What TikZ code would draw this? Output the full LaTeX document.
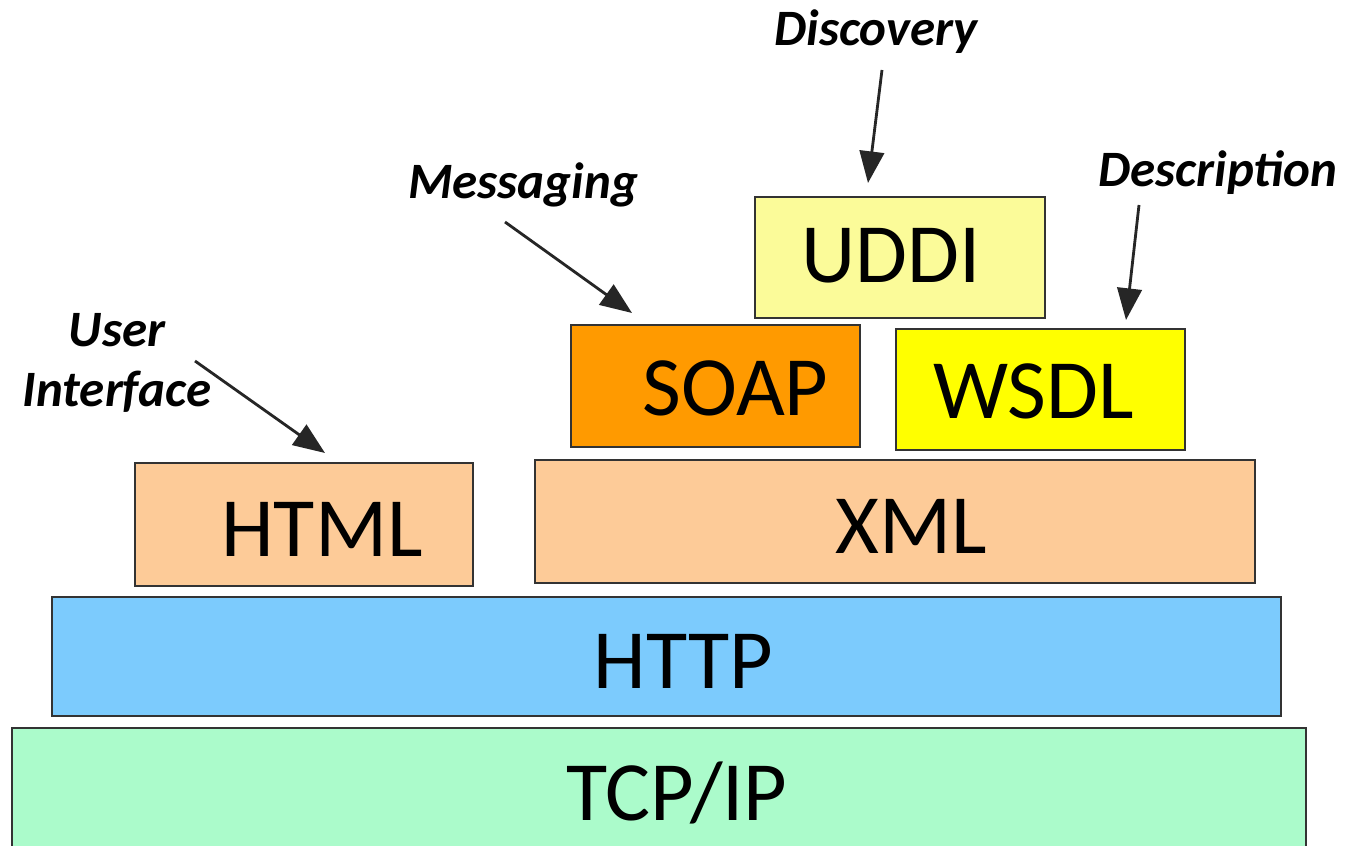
\documentclass[tikz,border=0pt]{standalone}
\usepackage{fontspec}
\setmainfont{Carlito}
\usetikzlibrary{arrows.meta}
\definecolor{tcpc}{HTML}{ABFBCB}
\definecolor{httpc}{HTML}{7CCBFD}
\definecolor{xmlc}{HTML}{FDCB98}
\definecolor{soapc}{HTML}{FF9A00}
\definecolor{wsdlc}{HTML}{FFFF00}
\definecolor{uddic}{HTML}{FBFB99}
\tikzset{
  layer/.style={draw=black!80, line width=0.6pt, inner sep=0pt, font=\fontsize{24}{24}\selectfont},
  tag/.style={font=\itshape\bfseries\fontsize{14.5}{17}\selectfont, align=center, inner sep=0pt},
  pointer/.style={-{Triangle[length=9pt,width=7pt]}, line width=0.8pt, black!85}
}
\begin{document}
\begin{tikzpicture}[x=0.01cm,y=-0.01cm]
\useasboundingbox (0,0) rectangle (1345,846);
\node[layer, fill=tcpc, minimum width=12.94cm, minimum height=1.38cm, label={[xshift=0.18cm,yshift=0.04cm,font=\fontsize{24}{24}\selectfont]center:TCP/IP}] (tcp) at (659,797) {};
\node[layer, fill=httpc, minimum width=12.29cm, minimum height=1.19cm, label={[xshift=0.17cm,yshift=-0.05cm,font=\fontsize{24}{24}\selectfont]center:HTTP}] (http) at (666.5,656.5) {};
\node[layer, fill=xmlc, minimum width=3.38cm, minimum height=1.23cm, label={[xshift=0.18cm,yshift=-0.05cm,font=\fontsize{24}{24}\selectfont]center:HTML}] (html) at (304,524.5) {};
\node[layer, fill=xmlc, minimum width=7.20cm, minimum height=1.23cm, label={[xshift=0.16cm,yshift=-0.05cm,font=\fontsize{24}{24}\selectfont]center:XML}] (xml) at (895,521.5) {};
\node[layer, fill=soapc, minimum width=2.89cm, minimum height=1.22cm, label={[xshift=0.20cm,yshift=-0.02cm,font=\fontsize{24}{24}\selectfont]center:SOAP}] (soap) at (715.5,386) {};
\node[layer, fill=wsdlc, minimum width=2.89cm, minimum height=1.21cm, label={[xshift=-0.07cm,yshift=-0.02cm,font=\fontsize{24}{24}\selectfont]center:WSDL}] (wsdl) at (1040.5,389.5) {};
\node[layer, fill=uddic, minimum width=2.90cm, minimum height=1.21cm, label={[xshift=-0.09cm,yshift=0.02cm,font=\fontsize{24}{24}\selectfont]center:UDDI}] (uddi) at (900,257.5) {};

\node[tag] (disc) at (876,32) {Discovery};
\node[tag] (msg) at (523,185) {Messaging};
\node[tag] (desc) at (1218,173) {Description};
\node[tag] (ui) at (117,363) {User\\Interface};

\coordinate (discS) at (882,70);
\coordinate (discE) at (868,183);
\coordinate (msgS) at (505,222);
\coordinate (msgE) at (632,313);
\coordinate (descS) at (1139,205);
\coordinate (descE) at (1126,320);
\coordinate (uiS) at (195,361);
\coordinate (uiE) at (325,453);

\draw[pointer] (discS) -- (discE);
\draw[pointer] (msgS) -- (msgE);
\draw[pointer] (descS) -- (descE);
\draw[pointer] (uiS) -- (uiE);
\end{tikzpicture}
\end{document}
